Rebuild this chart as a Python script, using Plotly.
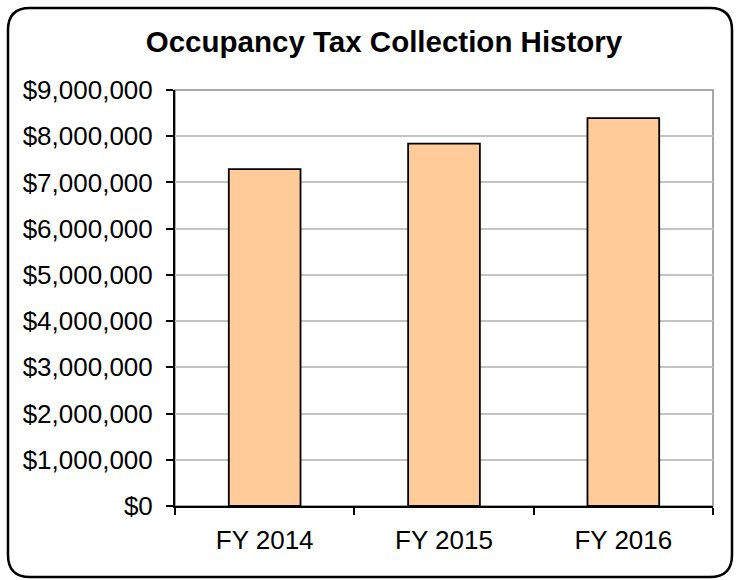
import plotly.graph_objects as go

# Occupancy tax collected per fiscal year
fiscal_years = ["FY 2014", "FY 2015", "FY 2016"]
collections = [7290000, 7840000, 8390000]
y_tick_values = [0, 1000000, 2000000, 3000000, 4000000, 5000000,
                 6000000, 7000000, 8000000, 9000000]
y_tick_labels = [f"${v:,.0f}" for v in y_tick_values]

W, H = 736, 580
L, R, T, B = 175, 23, 90, 74
pw, ph = W - L - R, H - T - B

FONT = "Arial, Liberation Sans, Helvetica, sans-serif"

fig = go.Figure(
    go.Bar(
        x=fiscal_years,
        y=collections,
        width=0.4,
        marker=dict(color="#FFCC99", line=dict(color="#000000", width=1.8)),
    )
)


def px_to_paper(px, py):
    return (px - L) / pw, (H - B - py) / ph


def rounded_rect_path(x0, y0, x1, y1, r):
    def p(x, y):
        a, b = px_to_paper(x, y)
        return f"{a:.5f},{b:.5f}"

    return (
        f"M {p(x0 + r, y0)} L {p(x1 - r, y0)} Q {p(x1, y0)} {p(x1, y0 + r)} "
        f"L {p(x1, y1 - r)} Q {p(x1, y1)} {p(x1 - r, y1)} "
        f"L {p(x0 + r, y1)} Q {p(x0, y1)} {p(x0, y1 - r)} "
        f"L {p(x0, y0 + r)} Q {p(x0, y0)} {p(x0 + r, y0)} Z"
    )


shapes = [
    # plot-area frame (gray), left and bottom are overdrawn by black axis lines
    dict(type="rect", xref="paper", yref="paper", x0=0, x1=1, y0=0, y1=1,
         line=dict(color="#8c8c8c", width=1.5), layer="below"),
    # rounded outer chart border
    dict(type="path", xref="paper", yref="paper",
         path=rounded_rect_path(8, 8, 732, 577, 22),
         line=dict(color="#000000", width=2.5), layer="above"),
]

fig.update_layout(
    width=W,
    height=H,
    margin=dict(l=L, r=R, t=T, b=B, pad=0),
    paper_bgcolor="#ffffff",
    plot_bgcolor="#ffffff",
    showlegend=False,
    font=dict(family=FONT, color="#000000", size=26),
    title=dict(
        text="<b>Occupancy Tax Collection History</b>",
        x=384 / W, xref="container", xanchor="center",
        y=1 - 42 / H, yref="container", yanchor="middle",
        font=dict(family=FONT, size=29.5, color="#000000"),
    ),
    shapes=shapes,
    xaxis=dict(
        type="category",
        range=[-0.5, 2.5],
        showgrid=False,
        showline=True, linecolor="#000000", linewidth=2,
        ticks="outside", tickson="boundaries", ticklen=7,
        tickcolor="#000000", tickwidth=1.5,
        ticklabelstandoff=10,
        tickfont=dict(family=FONT, size=26, color="#000000"),
        zeroline=False,
    ),
    yaxis=dict(
        range=[0, 9000000],
        tickmode="array",
        tickvals=y_tick_values,
        ticktext=y_tick_labels,
        showgrid=True, gridcolor="#c4c4c4", gridwidth=1.5,
        showline=True, linecolor="#000000", linewidth=2,
        ticks="outside", ticklen=7, tickcolor="#000000", tickwidth=1.5,
        ticklabelstandoff=8,
        tickfont=dict(family=FONT, size=26, color="#000000"),
        zeroline=False,
    ),
)

fig.write_html("out.html")
